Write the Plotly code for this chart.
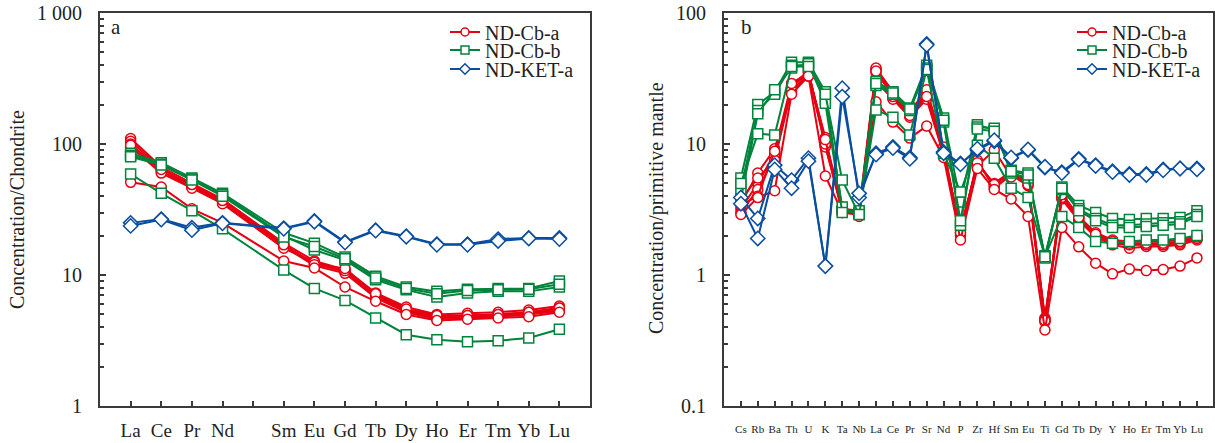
import plotly.graph_objects as go

# ---------------- data ----------------
REE_AXIS = ["La", "Ce", "Pr", "Nd", "Pm", "Sm", "Eu", "Gd", "Tb", "Dy", "Ho", "Er", "Tm", "Yb", "Lu"]
REE_TICKTEXT = ["La", "Ce", "Pr", "Nd", "", "Sm", "Eu", "Gd", "Tb", "Dy", "Ho", "Er", "Tm", "Yb", "Lu"]
REE = ["La", "Ce", "Pr", "Nd", "Sm", "Eu", "Gd", "Tb", "Dy", "Ho", "Er", "Tm", "Yb", "Lu"]

SPIDER = ["Cs", "Rb", "Ba", "Th", "U", "K", "Ta", "Nb", "La", "Ce", "Pr", "Sr", "Nd", "P",
          "Zr", "Hf", "Sm", "Eu", "Ti", "Gd", "Tb", "Dy", "Y", "Ho", "Er", "Tm", "Yb", "Lu"]

# chondrite-normalised REE
ree_cb_a = [
    [110, 67, 50, 38, 17.5, 12.8, 11.0, 7.3, 5.7, 5.0, 5.1, 5.2, 5.4, 5.8],
    [105, 65, 48, 37, 17.0, 12.2, 10.6, 7.0, 5.4, 4.8, 4.9, 5.0, 5.2, 5.6],
    [100, 62, 47, 36, 16.5, 11.8, 10.3, 6.7, 5.2, 4.6, 4.7, 4.8, 5.0, 5.3],
    [95, 60, 46, 35, 16.0, 12.5, 10.8, 6.9, 5.3, 4.7, 4.8, 4.9, 5.1, 5.4],
    [98, 64, 49, 37, 17.0, 12.0, 11.2, 7.2, 5.5, 4.9, 4.9, 5.0, 5.2, 5.6],
    [51, 47, 32, 25, 12.8, 11.3, 8.1, 6.3, 5.0, 4.5, 4.6, 4.7, 4.8, 5.2],
]
ree_cb_b = [
    [85, 72, 55, 42, 21.0, 17.5, 13.7, 9.8, 8.1, 7.5, 7.8, 7.9, 7.9, 9.0],
    [82, 70, 54, 41, 20.0, 15.5, 13.0, 9.2, 7.7, 6.8, 7.3, 7.5, 7.5, 8.1],
    [80, 69, 53, 40, 19.5, 16.5, 13.3, 9.5, 7.9, 7.2, 7.6, 7.7, 7.8, 8.5],
    [59, 42, 31, 22.5, 10.9, 7.9, 6.4, 4.7, 3.5, 3.2, 3.1, 3.15, 3.3, 3.85],
]
ree_ket_a = [
    [25, 26.7, 23, 25, 22.8, 25.8, 17.9, 22, 19.8, 17.2, 17.2, 18.8, 19.2, 19.2],
    [23.7, 26.5, 22, 24.8, 22.5, 25.5, 17.7, 21.8, 19.6, 17.0, 17.0, 18.2, 19.0, 18.8],
]

# primitive-mantle-normalised trace elements
pm_cb_a = [
    [3.2, 5.0, 8.5, 27, 35, 10.5, 3.1, 3.0, 37, 25, 17, 25, 9.0, 2.1, 7.3, 4.8, 6.0, 5.0, 0.45, 4.0, 2.7, 2.0, 1.75, 1.7, 1.7, 1.72, 1.75, 1.9],
    [3.5, 6.0, 9.2, 25, 34, 11.2, 3.0, 2.9, 35, 24, 16.5, 24, 8.5, 2.2, 7.0, 5.0, 6.2, 5.2, 0.47, 4.2, 2.8, 2.1, 1.85, 1.8, 1.8, 1.8, 1.85, 2.0],
    [3.0, 4.5, 8.0, 28, 36, 9.5, 3.2, 3.1, 38, 25, 17.5, 26, 9.5, 2.0, 7.5, 4.6, 5.8, 4.8, 0.44, 3.8, 2.6, 1.95, 1.7, 1.6, 1.65, 1.65, 1.7, 1.85],
    [3.8, 5.5, 7.5, 26, 33, 10.0, 3.0, 3.0, 30, 22, 16, 22, 8.2, 2.3, 6.8, 9.0, 5.6, 5.3, 0.46, 3.9, 2.7, 2.0, 1.75, 1.7, 1.7, 1.7, 1.75, 1.9],
    [3.4, 4.0, 8.8, 29, 35, 10.8, 3.3, 2.8, 36, 23, 16.5, 23, 8.7, 2.1, 7.2, 4.9, 6.1, 4.9, 0.45, 4.1, 2.75, 2.05, 1.8, 1.75, 1.75, 1.75, 1.8, 1.95],
    [2.9, 3.9, 4.4, 24, 33, 5.7, 3.0, 2.9, 21, 14.7, 11.1, 13.7, 7.9, 1.85, 6.5, 4.5, 3.8, 2.8, 0.38, 2.3, 1.64, 1.23, 1.02, 1.11, 1.08, 1.1, 1.17, 1.35],
]
pm_cb_b = [
    [5.5, 20, 25, 42, 42, 25, 3.1, 3.0, 30, 25, 18.8, 40, 15.8, 3.6, 14, 12.8, 6.3, 6.0, 1.37, 4.7, 3.4, 3.0, 2.7, 2.65, 2.7, 2.7, 2.75, 3.1],
    [4.5, 18, 24, 40, 40, 22, 3.3, 2.9, 28, 24, 18, 38, 14.7, 2.4, 13.5, 13.2, 6.0, 5.5, 1.4, 4.5, 3.2, 2.7, 2.4, 2.4, 2.45, 2.5, 2.55, 2.9],
    [3.8, 17, 26, 38, 41, 20.5, 3.0, 3.1, 29, 24.5, 18.5, 36.5, 15.2, 2.6, 13, 12.5, 6.2, 5.8, 1.35, 4.6, 3.1, 2.6, 2.3, 2.3, 2.35, 2.4, 2.45, 2.8],
    [5.0, 12, 11.7, 39, 39, 24, 5.3, 2.9, 18.2, 16, 11.7, 37, 8.5, 4.3, 9.8, 7.8, 4.6, 3.9, 1.38, 2.8, 2.3, 1.8, 1.75, 1.8, 1.85, 1.85, 1.9, 2.0],
]
pm_ket_a = [
    [3.9, 2.7, 6.9, 5.3, 7.8, 1.17, 26.7, 3.9, 8.5, 9.5, 7.9, 58, 8.7, 7.1, 9.0, 10.5, 7.8, 9.0, 6.6, 6.1, 7.7, 6.9, 6.2, 5.9, 5.9, 6.4, 6.5, 6.5],
    [3.5, 1.9, 6.4, 4.6, 7.4, 1.17, 23, 4.2, 8.3, 9.3, 7.7, 57, 8.5, 7.0, 9.2, 10.7, 7.9, 9.1, 6.7, 6.0, 7.6, 6.8, 6.1, 5.8, 5.8, 6.3, 6.5, 6.4],
]

GROUPS = ["ND-Cb-a", "ND-Cb-b", "ND-KET-a"]
COLORS = ["#E60012", "#00843C", "#0A4EA0"]
SYMBOLS = ["circle", "square", "diamond"]
MSIZE = [10, 10, 11]

# ---------------- figure ----------------
FONT = "Liberation Serif"
TXT = "#231F20"
AX = "#3A3A3A"
W, H = 1215, 443

def px_x(p):
    return p / W

def px_y(p):
    return 1 - p / H

ROWS_Y = [32, 50, 69]        # legend row centres (px)
LEG_X = [445, 1072]          # legend left edges (px)
PANEL_X = [(100, 590), (724, 1213)]
PANEL_Y = (406, 13)

fig = go.Figure()
legend_layout = {}

def add_group(xcats, samples, gi, xa, ya, panel):
    for s in samples:
        fig.add_trace(go.Scatter(
            x=xcats, y=s, xaxis=xa, yaxis=ya, mode="lines+markers",
            line=dict(color=COLORS[gi], width=2),
            marker=dict(symbol=SYMBOLS[gi], size=MSIZE[gi], color="white",
                        line=dict(color=COLORS[gi], width=1.5)),
            showlegend=False, hoverinfo="skip", cliponaxis=False))
    k = panel * 3 + gi + 1
    leg = "legend" if k == 1 else f"legend{k}"
    fig.add_trace(go.Scatter(
        x=[None], y=[None], xaxis=xa, yaxis=ya, mode="lines+markers", name=GROUPS[gi],
        line=dict(color=COLORS[gi], width=2),
        marker=dict(symbol=SYMBOLS[gi], size=8, color="white",
                    line=dict(color=COLORS[gi], width=1.5)),
        showlegend=True, legend=leg))
    legend_layout[leg] = dict(
        x=px_x(LEG_X[panel]), y=px_y(ROWS_Y[gi]), xanchor="left", yanchor="middle",
        bgcolor="rgba(0,0,0,0)", font=dict(family=FONT, size=20, color=TXT),
        itemwidth=30, borderwidth=0)

for gi, samples in enumerate([ree_cb_a, ree_cb_b, ree_ket_a]):
    add_group(REE, samples, gi, "x", "y", 0)
for gi, samples in enumerate([pm_cb_a, pm_cb_b, pm_ket_a]):
    add_group(SPIDER, samples, gi, "x2", "y2", 1)

ydom = [px_y(PANEL_Y[0]), px_y(PANEL_Y[1])]

common_x = dict(showline=True, linecolor=AX, linewidth=2, mirror=True, ticks="inside",
                ticklen=5, tickwidth=1.5, tickcolor=AX, showgrid=False, zeroline=False,
                type="category", categoryorder="array", automargin=False,
                ticklabeloverflow="allow")
common_y = dict(showline=True, linecolor=AX, linewidth=2, mirror=True, ticks="inside",
                ticklen=6, tickwidth=1.5, tickcolor=AX, showgrid=False, zeroline=False,
                type="log", tickfont=dict(family=FONT, size=20, color=TXT),
                ticklabelstandoff=12, automargin=False, ticklabeloverflow="allow")

minor_a = [m * 10 ** e for e in range(0, 3) for m in range(2, 10)]
minor_b = [m * 10 ** e for e in range(-1, 2) for m in range(2, 10)]

# top edges of the two frames (paper-referenced so they are never clipped)
frame = [dict(type="line", xref="paper", yref="paper",
              x0=px_x(x0) - 1 / W, x1=px_x(x1) + 1 / W,
              y0=px_y(PANEL_Y[1]) + 1 / H, y1=px_y(PANEL_Y[1]) + 1 / H,
              line=dict(color=AX, width=2), layer="above")
         for x0, x1 in PANEL_X]

fig.update_layout(
    template="none",
    width=W, height=H, margin=dict(l=0, r=0, t=0, b=0, autoexpand=False),
    paper_bgcolor="white", plot_bgcolor="white",
    font=dict(family=FONT, color=TXT),
    xaxis=dict(common_x, domain=[px_x(PANEL_X[0][0]), px_x(PANEL_X[0][1])], anchor="y",
               categoryarray=REE_AXIS, tickvals=REE_AXIS, ticktext=REE_TICKTEXT,
               range=[-1, 15], tickfont=dict(family=FONT, size=19, color=TXT),
               ticklabelstandoff=6),
    yaxis=dict(common_y, domain=ydom, anchor="x", range=[0, 3],
               tickvals=[1, 10, 100, 1000], ticktext=["1", "10", "100", "1 000"],
               minor=dict(tickvals=minor_a, ticks="inside", ticklen=4, tickwidth=1.5,
                          tickcolor=AX)),
    xaxis2=dict(common_x, domain=[px_x(PANEL_X[1][0]), px_x(PANEL_X[1][1])], anchor="y2",
                categoryarray=SPIDER, tickvals=SPIDER, ticktext=SPIDER,
                range=[-1, 27.95], tickfont=dict(family=FONT, size=11, color=TXT),
                ticklabelstandoff=12),
    yaxis2=dict(common_y, domain=ydom, anchor="x2", range=[-1, 2],
                tickvals=[0.1, 1, 10, 100], ticktext=["0.1", "1", "10", "100"],
                minor=dict(tickvals=minor_b, ticks="inside", ticklen=4, tickwidth=1.5,
                           tickcolor=AX)),
    shapes=frame,
    annotations=[
        dict(text="Concentration/Chondrite", x=px_x(17), y=px_y(210), xref="paper",
             yref="paper", textangle=-90, showarrow=False, xanchor="center",
             yanchor="middle", font=dict(family=FONT, size=20, color=TXT)),
        dict(text="Concentration/primitive mantle", x=px_x(656), y=px_y(208), xref="paper",
             yref="paper", textangle=-90, showarrow=False, xanchor="center",
             yanchor="middle", font=dict(family=FONT, size=20, color=TXT)),
        dict(text="a", x=px_x(116), y=px_y(27), xref="paper", yref="paper",
             xanchor="center", yanchor="middle",
             showarrow=False, font=dict(family=FONT, size=21, color=TXT)),
        dict(text="b", x=px_x(746), y=px_y(27), xref="paper", yref="paper",
             xanchor="center", yanchor="middle",
             showarrow=False, font=dict(family=FONT, size=21, color=TXT)),
    ],
    **legend_layout,
)

# remove the default 8 px page margin so the figure fills the window exactly
fig.write_html("out.html", config={"displayModeBar": False},
               post_script="document.body.style.margin = '0px';")
